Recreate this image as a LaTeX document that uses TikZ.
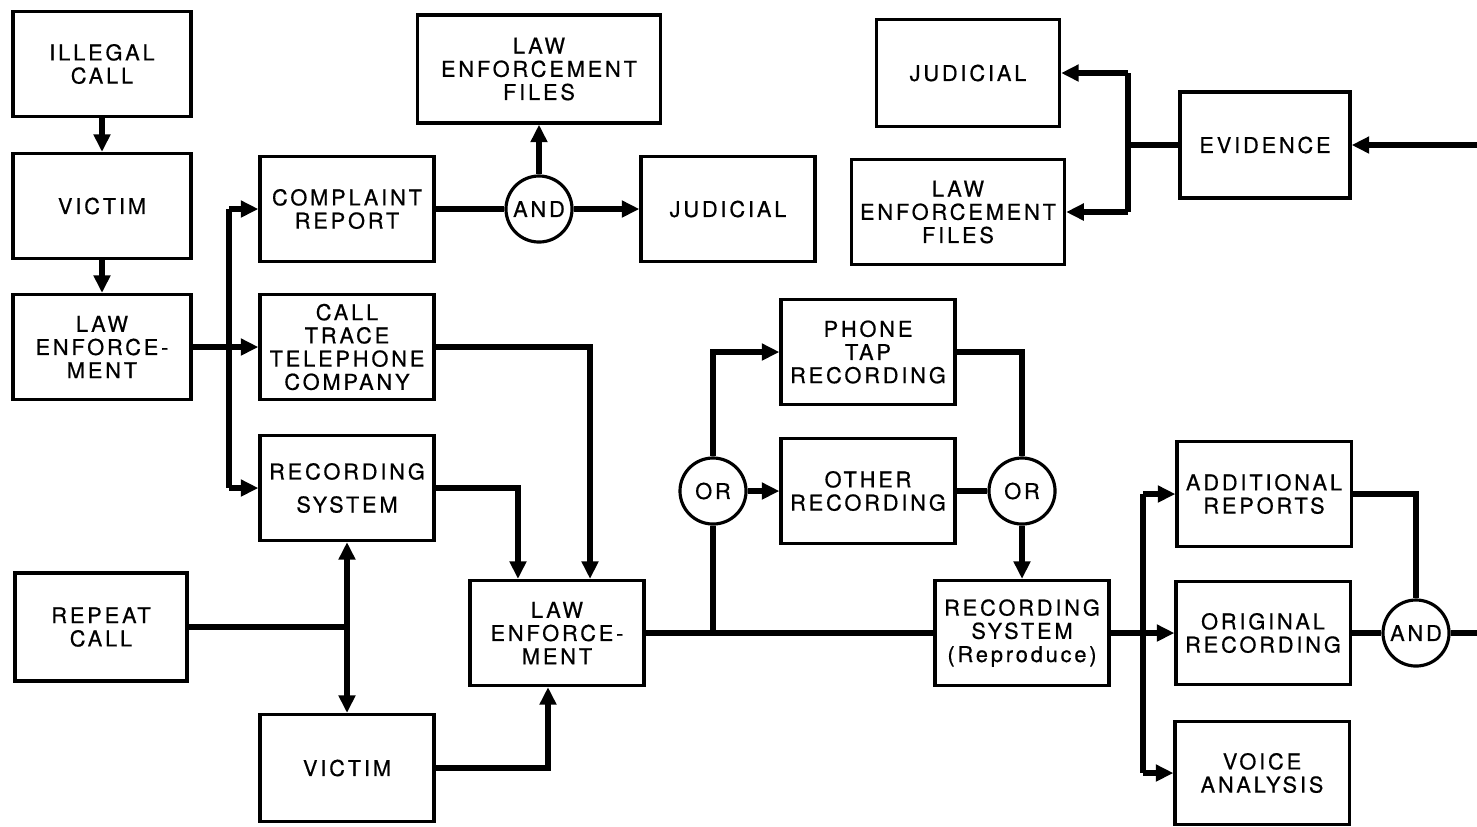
\documentclass[tikz,border=0pt]{standalone}
\usepackage{fontspec}
\setsansfont{TeX Gyre Heros}[LetterSpace=13,FakeBold=0.6]
\usetikzlibrary{arrows.meta,positioning}

\begin{document}
\begin{tikzpicture}[x=0.01cm, y=-0.01cm, font=\sffamily]

% =========================
% Canvas
% =========================
\fill[white] (0,0) rectangle (1477,826);
\useasboundingbox (0,0) rectangle (1477,826);

% =========================
% Styles
% =========================
\tikzset{
    blockbox/.style={
        draw,
        line width=0.9pt,
        fill=white,
        align=center,
        minimum width=1.74cm,
        minimum height=1.05cm,
        inner sep=1pt,
        font=\sffamily\fontsize{6.2}{6.6}\selectfont
    },
    gatecirc/.style={
        draw,
        circle,
        line width=0.9pt,
        fill=white,
        minimum size=0.66cm,
        inner sep=0pt,
        font=\sffamily\fontsize{6.2}{6.6}\selectfont
    },
    flowline/.style={line width=1.7pt},
    flowarrow/.style={flowline, -{Triangle[length=5pt,width=4.6pt]}},
    flowboth/.style={flowline, {Triangle[length=5pt,width=4.6pt]}-{Triangle[length=5pt,width=4.6pt]}}
}

% =========================
% First report chain
% =========================
\node[blockbox, minimum width=1.78cm] (ill)  at (102,64)  {ILLEGAL\\CALL};
\node[blockbox, minimum width=1.78cm] (vic1) at (102,206) {VICTIM};
\node[blockbox, minimum width=1.78cm] (law1) at (102,347) {LAW\\ENFORCE-\\MENT};

\node[blockbox] (comp)   at (347,209) {COMPLAINT\\REPORT};
\node[blockbox] (trace)  at (347,347) {CALL\\TRACE\\TELEPHONE\\COMPANY};
\node[blockbox] (recsys) at (347,488) {RECORDING\\[2.8pt]SYSTEM};

\node[blockbox, minimum width=2.43cm, minimum height=1.08cm] (files1) at (539,69) {LAW\\ENFORCEMENT\\FILES};
\node[gatecirc] (and1) at (539,209) {AND};
\node[blockbox] (jud1) at (728,209) {JUDICIAL};

% =========================
% Repeat call chain
% =========================
\node[blockbox, minimum width=1.72cm, minimum height=1.08cm] (repeat) at (101,627) {REPEAT\\CALL};
\node[blockbox, minimum height=1.07cm] (vic2) at (347,768) {VICTIM};
\node[blockbox] (law2) at (557,633) {LAW\\ENFORCE-\\MENT};

% =========================
% Recordings
% =========================
\node[gatecirc] (or1) at (713,491) {OR};
\node[blockbox] (tap)   at (868,352) {PHONE\\TAP\\RECORDING};
\node[blockbox] (other) at (868,491) {OTHER\\RECORDING};
\node[gatecirc] (or2) at (1022,491) {OR};
\node[blockbox] (repro) at (1022,633) {RECORDING\\SYSTEM\\(Reproduce)};

% =========================
% Outputs & evidence
% =========================
\node[blockbox] (addl)  at (1264,494) {ADDITIONAL\\REPORTS};
\node[blockbox, minimum height=1.03cm] (orig) at (1263,633) {ORIGINAL\\RECORDING};
\node[blockbox, minimum height=1.03cm] (voice) at (1262,773) {VOICE\\ANALYSIS};
\node[gatecirc] (and2) at (1416,633) {AND};

\node[blockbox, minimum width=1.83cm, minimum height=1.07cm] (jud2) at (968,73) {JUDICIAL};
\node[blockbox, minimum width=2.13cm] (files2) at (958,212) {LAW\\ENFORCEMENT\\FILES};
\node[blockbox, minimum width=1.70cm, minimum height=1.06cm] (evid) at (1265,145) {EVIDENCE};

% =========================
% Bus points
% =========================
\coordinate (bus1) at (229,347);
\coordinate (bus2) at (1128,145);
\coordinate (bus3) at (1143,633);
\coordinate (evin) at (1477,145);
\coordinate (andout) at (1477,633);

% =========================
% Connectors
% =========================
\draw[flowarrow] (ill) -- (vic1);
\draw[flowarrow] (vic1) -- (law1);
\draw[flowarrow] (law1.east) -- (trace.west);
\draw[flowline] (bus1 |- comp) -- (bus1 |- recsys);
\draw[flowarrow] (bus1 |- comp) -- (comp.west);
\draw[flowarrow] (bus1 |- recsys) -- (recsys.west);

\draw[flowline] (comp.east) -- (and1.west);
\draw[flowarrow] (and1.north) -- (files1.south);
\draw[flowarrow] (and1.east) -- (jud1.west);

\draw[flowarrow] (trace.east) -| ([xshift=0.33cm]law2.north);
\draw[flowarrow] (recsys.east) -| ([xshift=-0.39cm]law2.north);
\draw[flowarrow] (vic2.east) -| ([xshift=-0.09cm]law2.south);

\draw[flowboth] (recsys.south) -- (vic2.north);
\draw[flowline] (repeat.east) -- (recsys.south |- repeat.east);

\draw[flowline] (law2.east) -- (repro.west);
\draw[flowline] (or1.south) -- (or1.south |- law2.east);
\draw[flowarrow] (or1.north) |- (tap.west);
\draw[flowarrow] (or1.east) -- (other.west);
\draw[flowline] (tap.east) -| (or2.north);
\draw[flowline] (other.east) -- (or2.west);
\draw[flowarrow] (or2.south) -- (repro.north);

\draw[flowarrow] (repro.east) -- (orig.west);
\draw[flowline] (bus3 |- addl) -- (bus3 |- voice);
\draw[flowarrow] (bus3 |- addl) -- (addl.west);
\draw[flowarrow] (bus3 |- voice) -- (voice.west);
\draw[flowline] (addl.east) -| (and2.north);
\draw[flowline] (orig.east) -- (and2.west);
\draw[flowline] (and2.east) -- (andout);

\draw[flowarrow] (evin) -- (evid.east);
\draw[flowline] (evid.west) -- (bus2);
\draw[flowline] (bus2 |- jud2) -- (bus2 |- files2);
\draw[flowarrow] (bus2 |- jud2) -- (jud2.east);
\draw[flowarrow] (bus2 |- files2) -- (files2.east);

\end{tikzpicture}
\end{document}
